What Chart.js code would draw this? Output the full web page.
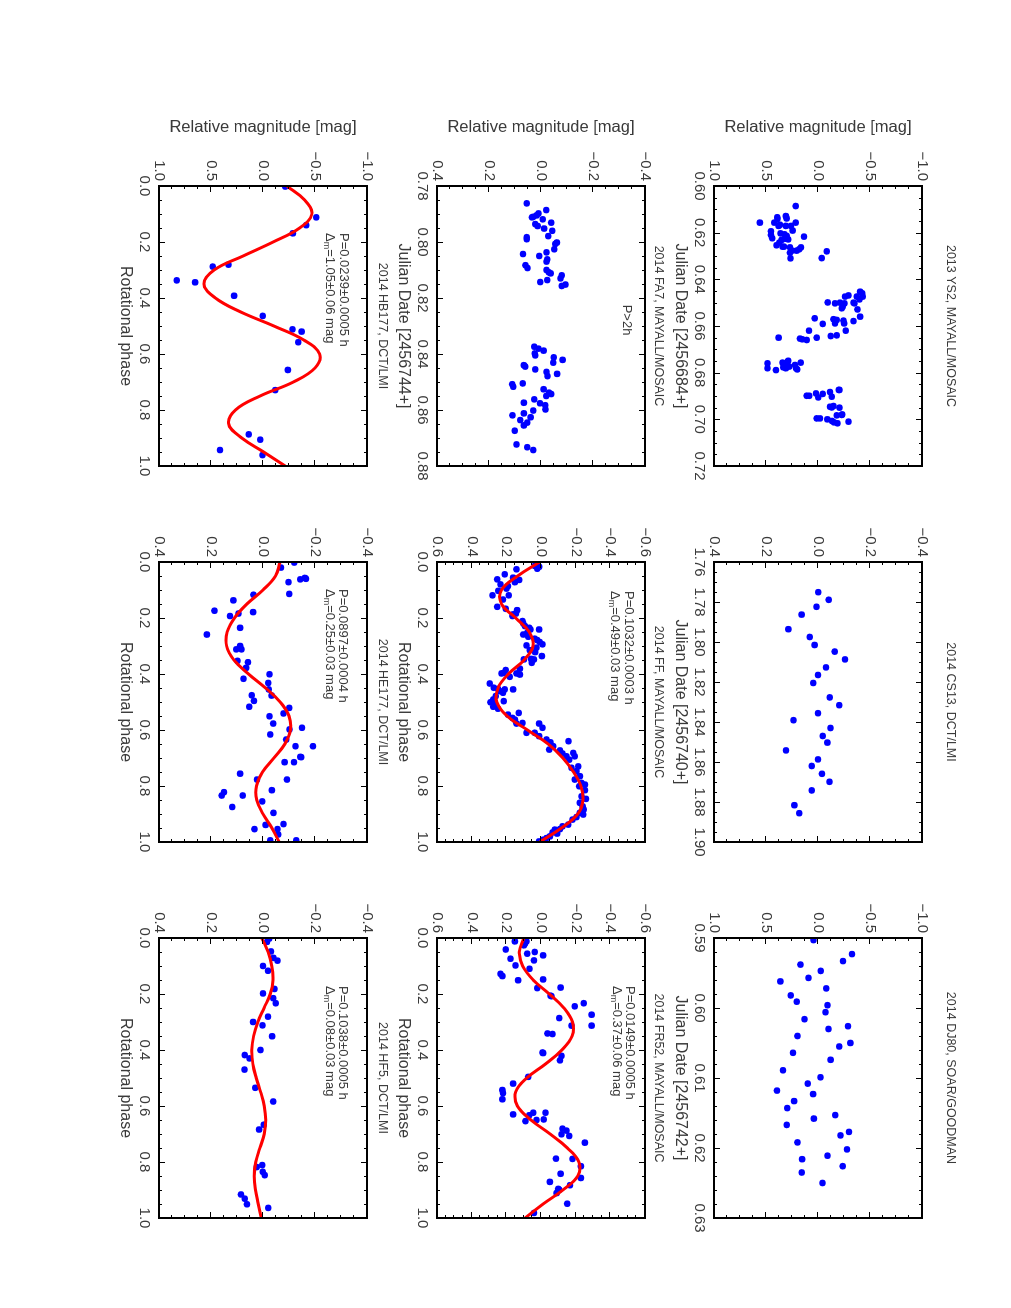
<!DOCTYPE html>
<html>
<head>
<meta charset="utf-8">
<script src="https://cdn.jsdelivr.net/npm/chart.js@4.4.1/dist/chart.umd.min.js"></script>
<style>
  html, body { margin: 0; padding: 0; background: #fff; }
  body { width: 1011px; height: 1308px; overflow: hidden; position: relative; }
  /* the figure is landscape, shown turned a quarter clockwise */
  #page { position: absolute; left: 0; top: 0; width: 1308px; height: 1011px;
          transform-origin: 0 0; transform: translate(1011px, 0) rotate(90deg); }
  #page canvas { position: absolute; }
</style>
</head>
<body>
<div id="page"></div>
<script>
// ---- data ----
const ys2Jd = [0.6086,0.6157,0.6134,0.6141,0.6129,0.6139,0.6157,0.6166,0.6171,0.6171,0.6171,0.6157,0.6191,0.6194,0.6210,0.6203,0.6207,0.6214,0.6217,0.6224,0.6231,0.6226,0.6229,0.6243,0.6254,0.6260,0.6260,0.6263,0.6277,0.6277,0.6263,0.6271,0.6286,0.6310,0.6280,0.6309,
  0.6453,0.6460,0.6474,0.6486,0.6474,0.6469,0.6474,0.6500,0.6517,0.6524,0.6503,0.6500,0.6503,0.6529,0.6499,0.6503,0.6560,0.6579,0.6571,0.6574,0.6577,0.6589,0.6567,0.6591,0.6589,0.6620,0.6620,0.6640,0.6643,0.6650,0.6654,0.6657,0.6660,0.6650,
  0.6760,0.6781,0.6789,0.6767,0.6774,0.6760,0.6753,0.6749,0.6777,0.6781,0.6774,0.6767,0.6781,0.6786,0.6757,0.6757,
  0.6899,0.6899,0.6889,0.6891,0.6906,0.6883,0.6903,0.6874,0.6874,0.6946,0.6949,0.6943,0.6950,0.6981,0.6983,0.6996,0.6996,0.7000,0.7007,0.7013,0.7017,0.7010,0.6979];
const ys2Mag = [0.215,0.559,0.392,0.389,0.309,0.302,0.421,0.367,0.379,0.309,0.260,0.215,0.244,0.453,0.453,0.360,0.322,0.302,0.135,0.441,0.350,0.315,0.286,0.373,0.399,0.341,0.328,0.270,0.251,0.206,0.164,0.180,0.270,0.264,-0.084,-0.035,
  -0.405,-0.424,-0.431,-0.399,-0.373,-0.293,-0.260,-0.212,-0.238,-0.228,-0.254,-0.341,-0.350,-0.379,-0.093,-0.164,-0.405,-0.341,-0.148,-0.180,-0.244,-0.251,0.032,-0.045,-0.164,-0.267,0.087,-0.180,-0.122,0.013,0.174,0.151,0.109,0.379,
  0.486,0.486,0.405,0.328,0.315,0.302,0.293,0.286,0.334,0.309,0.277,0.222,0.212,0.199,0.167,0.341,
  0.109,0.084,0.019,-0.045,-0.003,-0.116,-0.132,-0.206,-0.199,-0.116,-0.132,-0.148,-0.206,-0.228,-0.180,0.013,-0.019,-0.090,-0.135,-0.154,-0.187,-0.293,-0.232];

const cs13Jd = [1.7751,1.7789,1.7824,1.7863,1.7936,1.7975,1.8015,1.8048,1.8087,1.8127,1.8165,1.8205,1.8277,1.8316,1.8356,1.8391,1.8430,1.8470,1.8503,1.8542,1.8587,1.8620,1.8659,1.8699,1.8742,1.8816,1.8856];
const cs13Mag = [-0.001,-0.041,0.006,0.063,0.114,0.032,0.013,-0.064,-0.104,-0.031,0.000,0.018,-0.045,-0.082,0.000,0.094,-0.048,-0.018,-0.036,0.123,0.000,0.024,-0.015,-0.044,0.024,0.091,0.072];

const dj80Jd = [0.5903,0.5923,0.5933,0.5938,0.5947,0.5957,0.5962,0.5972,0.5982,0.5996,0.5991,0.6006,0.6016,0.6026,0.6030,0.6040,0.6050,0.6055,0.6064,0.6074,0.6089,0.6099,0.6108,0.6118,0.6123,0.6133,0.6143,0.6153,0.6158,0.6167,0.6177,0.6182,0.6192,0.6202,0.6211,0.6216,0.6226,0.6235,0.6250];
const dj80Mag = [0.043,-0.327,-0.240,0.169,-0.027,0.092,0.362,-0.079,0.262,-0.092,0.205,-0.072,0.130,-0.288,-0.101,0.198,-0.311,-0.205,0.240,-0.121,0.337,-0.024,0.098,0.395,0.047,0.230,0.295,-0.166,0.040,0.301,-0.298,-0.217,0.198,-0.279,-0.092,0.153,-0.237,0.156,-0.043];

const fa7Jd = [0.7862,0.7886,0.7898,0.7905,0.7910,0.7912,0.7919,0.7931,0.7936,0.7943,0.7952,0.7960,0.7979,0.7983,0.7990,0.8002,0.8007,0.8026,0.8037,0.8043,0.8050,0.8062,0.8070,0.8083,0.8093,0.8100,0.8108,0.8112,0.8119,0.8130,0.8136,0.8143,0.8152,0.8157,
  0.8374,0.8381,0.8388,0.8398,0.8405,0.8412,0.8421,0.8431,0.8440,0.8445,0.8455,0.8464,0.8471,0.8479,0.8508,0.8517,0.8505,0.8526,0.8538,0.8543,0.8550,0.8562,0.8574,0.8576,0.8583,0.8598,0.8602,0.8612,0.8619,0.8636,0.8626,0.8645,0.8655,0.8674,0.8723,0.8733,0.8743];
const fa7Mag = [0.055,-0.020,0.010,0.017,0.030,0.035,-0.007,-0.039,0.022,0.013,-0.012,-0.043,-0.028,0.055,0.055,-0.061,-0.055,-0.051,-0.021,0.069,0.007,-0.024,-0.021,0.060,0.052,-0.021,-0.030,-0.037,-0.080,-0.075,-0.024,0.003,-0.094,-0.080,
  0.026,0.010,-0.010,0.024,0.022,-0.049,-0.083,-0.047,0.066,0.061,0.022,-0.021,-0.062,-0.025,0.111,0.107,0.070,-0.010,-0.031,-0.039,-0.020,0.026,0.066,0.004,-0.016,-0.017,0.030,0.066,0.110,0.080,0.040,0.053,0.066,0.101,0.094,0.053,0.030];

const ffPhase = [0.008,0.014,0.017,0.024,0.026,0.044,0.056,0.064,0.072,0.062,0.080,0.086,0.095,0.103,0.119,0.119,0.134,0.160,0.167,0.172,
  0.187,0.184,0.193,0.211,0.219,0.229,0.235,0.241,0.241,0.253,0.259,0.267,0.274,0.279,0.286,0.294,0.298,0.306,0.315,0.322,
  0.336,0.346,0.348,0.348,0.360,0.381,0.386,0.396,0.398,0.398,0.410,0.402,0.434,0.449,0.453,0.461,0.455,0.455,0.467,0.479,
  0.491,0.501,0.509,0.517,0.524,0.497,0.545,0.557,0.563,0.539,0.575,0.577,0.610,0.610,0.592,0.577,0.622,0.634,0.644,0.658,
  0.670,0.673,0.684,0.640,0.694,0.706,0.682,0.694,0.730,0.735,0.747,0.765,0.777,0.789,0.801,0.795,0.815,0.837,0.846,0.860,
  0.873,0.884,0.896,0.902,0.911,0.920,0.938,0.944,0.954,0.956,0.966,0.970,0.980,0.986,0.992,0.998];
const ffMag = [0.026,0.036,0.011,0.022,0.142,0.209,0.161,0.126,0.151,0.253,0.234,0.190,0.199,0.246,0.280,0.186,0.219,0.253,0.203,0.138,
  0.161,0.145,0.165,0.107,0.103,0.093,0.068,0.061,0.011,0.080,0.103,0.074,0.036,0.022,0.007,-0.009,0.084,0.026,0.065,0.034,
  -0.005,0.057,0.041,0.099,0.053,0.122,0.203,0.215,0.228,0.142,0.180,0.122,0.296,0.273,0.248,0.238,0.209,0.161,0.219,0.261,
  0.276,0.292,0.267,0.276,0.248,0.215,0.190,0.165,0.151,0.128,0.107,0.142,0.036,0.084,-0.009,0.011,0.011,-0.032,-0.055,-0.070,
  -0.047,-0.109,-0.124,-0.159,-0.147,-0.163,-0.186,-0.195,-0.215,-0.176,-0.205,-0.224,-0.195,-0.234,-0.220,-0.253,-0.253,-0.234,-0.259,-0.224,
  -0.240,-0.247,-0.224,-0.244,-0.205,-0.182,-0.157,-0.124,-0.109,-0.080,-0.066,-0.093,-0.051,-0.032,-0.012,0.011];

const fr52Phase = [0.012,0.012,0.020,0.026,0.041,0.050,0.056,0.062,0.074,0.080,0.098,0.110,0.128,0.136,0.151,0.148,0.179,0.177,0.206,0.208,
  0.244,0.233,0.286,0.274,0.313,0.313,0.341,0.343,0.409,0.411,0.421,0.437,0.496,0.520,0.543,0.554,0.576,0.630,0.624,0.624,
  0.633,0.648,0.654,0.650,0.681,0.688,0.707,0.701,0.731,0.788,0.789,0.815,0.842,0.857,0.871,0.883,0.896,0.911,0.899,0.949,0.982];
const fr52Mag = [0.151,0.084,0.092,0.099,0.203,0.036,0.080,-0.012,0.176,0.041,0.147,0.066,0.234,0.223,0.132,-0.012,0.022,-0.113,-0.055,-0.061,
  -0.195,-0.247,-0.105,-0.292,-0.292,-0.176,-0.037,-0.066,-0.009,-0.012,-0.118,-0.109,0.074,0.161,0.223,0.219,0.223,0.161,0.045,-0.026,
  0.068,-0.016,0.090,0.026,-0.124,-0.147,-0.163,-0.118,-0.253,-0.086,-0.182,-0.230,-0.113,-0.230,-0.051,-0.167,-0.099,-0.090,-0.105,-0.151,0.041];

const hb177Phase = [0.002,0.112,0.140,0.169,0.281,0.288,0.337,0.344,0.392,0.464,0.512,0.520,0.558,0.657,0.729,0.887,0.906,0.943,0.961];
const hb177Mag = [-0.213,-0.512,-0.416,-0.287,0.332,0.483,0.830,0.653,0.278,0.002,-0.284,-0.371,-0.339,-0.239,-0.117,0.137,0.027,0.413,0.005];

const he177Phase = [0.002,0.020,0.072,0.062,0.057,0.060,0.114,0.117,0.137,0.179,0.184,0.174,0.193,0.259,0.235,0.312,0.300,0.312,0.353,0.358,
  0.378,0.417,0.401,0.432,0.455,0.477,0.476,0.496,0.517,0.541,0.521,0.551,0.577,0.598,0.592,0.616,0.634,0.658,0.658,0.696,
  0.697,0.715,0.715,0.756,0.777,0.777,0.815,0.822,0.834,0.834,0.855,0.875,0.896,0.939,0.936,0.954,0.954,0.973,0.994,0.994];
const he177Mag = [-0.120,-0.069,-0.098,-0.143,-0.161,-0.165,-0.101,0.037,0.114,0.038,0.094,0.187,0.127,0.216,0.088,0.103,0.088,0.083,0.098,0.058,
  0.065,0.075,-0.025,-0.020,-0.022,-0.033,0.043,0.035,0.053,-0.079,-0.101,-0.025,-0.039,-0.102,-0.150,-0.028,-0.089,-0.192,-0.125,-0.143,
  -0.147,-0.083,-0.119,0.088,0.023,-0.092,-0.034,0.150,0.159,0.078,0.003,0.118,-0.040,-0.010,-0.079,0.033,-0.056,-0.058,-0.028,-0.128];

const hf5Phase = [0.002,0.014,0.048,0.071,0.081,0.100,0.117,0.182,0.198,0.215,0.233,0.281,0.300,0.312,0.351,0.400,0.418,0.430,0.470,0.535,
  0.584,0.667,0.684,0.811,0.818,0.835,0.847,0.916,0.931,0.951,0.964];
const hf5Mag = [-0.024,-0.015,-0.031,-0.040,-0.056,0.000,-0.019,-0.044,0.000,-0.039,-0.049,-0.019,0.038,0.002,-0.035,0.010,0.070,0.052,0.071,0.030,
  -0.039,-0.003,0.015,0.003,0.024,0.001,-0.007,0.085,0.070,0.062,-0.020];

// fitted curves, read at every 0.05 in phase
const fitPhase = [0,0.05,0.1,0.15,0.2,0.25,0.3,0.35,0.4,0.45,0.5,0.55,0.6,0.65,0.7,0.75,0.8,0.85,0.9,0.95,1];
const ffFit = [0.007,0.135,0.228,0.228,0.146,0.068,0.046,0.098,0.188,0.248,0.255,0.196,0.078,-0.041,-0.126,-0.188,-0.230,-0.242,-0.212,-0.118,0.007];
const fr52Fit = [0.099,0.125,0.106,0.045,-0.048,-0.132,-0.182,-0.180,-0.120,-0.026,0.082,0.146,0.136,0.058,-0.053,-0.152,-0.218,-0.212,-0.126,-0.012,0.092];
const hb177Fit = [-0.229,-0.400,-0.470,-0.352,-0.098,0.192,0.470,0.568,0.458,0.214,-0.104,-0.392,-0.545,-0.500,-0.292,0.028,0.265,0.330,0.204,-0.006,-0.213];
const he177Fit = [-0.066,-0.048,0.000,0.062,0.110,0.138,0.140,0.112,0.056,-0.010,-0.066,-0.100,-0.106,-0.084,-0.042,0.002,0.025,0.024,0.000,-0.034,-0.062];
const hf5Fit = [0.005,-0.020,-0.034,-0.038,-0.028,-0.004,0.020,0.036,0.043,0.039,0.026,0.009,-0.005,-0.011,-0.005,0.012,0.028,0.034,0.029,0.018,0.007];

// tick labels
const ys2Ticks = [0.60,0.62,0.64,0.66,0.68,0.70,0.72];
const cs13Ticks = [1.76,1.78,1.80,1.82,1.84,1.86,1.88,1.90];
const dj80Ticks = [0.59,0.60,0.61,0.62,0.63];
const fa7Ticks = [0.78,0.80,0.82,0.84,0.86,0.88];
const phaseTicks = [0.0,0.2,0.4,0.6,0.8,1.0];
const mag10Ticks = [-1.0,-0.5,0.0,0.5,1.0];
const mag04Ticks = [-0.4,-0.2,0.0,0.2,0.4];
const mag06Ticks = [-0.6,-0.4,-0.2,0.0,0.2,0.4,0.6];

// ---- layout of the landscape page ----
const colLeft = [186, 562, 938];
const rowTop = [89, 366, 644];
const BOX_W = 280, BOX_H = 208;
const M = { left: 80, top: 40, right: 22, bottom: 50 };
const TEXT = '#3a3a3a';
const FONT = '"Liberation Sans", Arial, sans-serif';

Chart.defaults.font.family = FONT;
Chart.defaults.color = TEXT;

const panels = [
  { row: 0, col: 0, title: '2013 YS2, MAYALL/MOSAIC', xTitle: 'Julian Date [2456684+]', xs: ys2Jd, ys: ys2Mag, xTicks: ys2Ticks, xDec: 2, xMinor: 4, yTicks: mag10Ticks, yMinor: 4 },
  { row: 0, col: 1, title: '2014 CS13, DCT/LMI', xTitle: 'Julian Date [2456740+]', xs: cs13Jd, ys: cs13Mag, xTicks: cs13Ticks, xDec: 2, xMinor: 4, yTicks: mag04Ticks, yMinor: 4 },
  { row: 0, col: 2, title: '2014 DJ80, SOAR/GOODMAN', xTitle: 'Julian Date [2456742+]', xs: dj80Jd, ys: dj80Mag, xTicks: dj80Ticks, xDec: 2, xMinor: 5, yTicks: mag10Ticks, yMinor: 4 },
  { row: 1, col: 0, title: '2014 FA7, MAYALL/MOSAIC', xTitle: 'Julian Date [2456744+]', xs: fa7Jd, ys: fa7Mag, xTicks: fa7Ticks, xDec: 2, xMinor: 4, yTicks: mag04Ticks, yMinor: 4,
    notes: [{ text: 'P>2h', dx: 134, dy: 18, center: true }] },
  { row: 1, col: 1, title: '2014 FF, MAYALL/MOSAIC', xTitle: 'Rotational phase', xs: ffPhase, ys: ffMag, fit: ffFit, xTicks: phaseTicks, xDec: 1, xMinor: 4, yTicks: mag06Ticks, yMinor: 4,
    notes: [{ text: 'P=0.1032\u00b10.0003 h', dx: 29, dy: 16 }, { delta: '=0.49\u00b10.03 mag', dx: 29, dy: 30 }] },
  { row: 1, col: 2, title: '2014 FR52, MAYALL/MOSAIC', xTitle: 'Rotational phase', xs: fr52Phase, ys: fr52Mag, fit: fr52Fit, xTicks: phaseTicks, xDec: 1, xMinor: 4, yTicks: mag06Ticks, yMinor: 4,
    notes: [{ text: 'P=0.0149\u00b10.0005 h', dx: 48, dy: 15 }, { delta: '=0.37\u00b10.06 mag', dx: 48, dy: 28 }] },
  { row: 2, col: 0, title: '2014 HB177, DCT/LMI', xTitle: 'Rotational phase', xs: hb177Phase, ys: hb177Mag, fit: hb177Fit, xTicks: phaseTicks, xDec: 1, xMinor: 4, yTicks: mag10Ticks, yMinor: 4,
    notes: [{ text: 'P=0.0239\u00b10.0005 h', dx: 47, dy: 23 }, { delta: '=1.05\u00b10.06 mag', dx: 47, dy: 37 }] },
  { row: 2, col: 1, title: '2014 HE177, DCT/LMI', xTitle: 'Rotational phase', xs: he177Phase, ys: he177Mag, fit: he177Fit, xTicks: phaseTicks, xDec: 1, xMinor: 4, yTicks: mag04Ticks, yMinor: 4,
    notes: [{ text: 'P=0.0897\u00b10.0004 h', dx: 27, dy: 24 }, { delta: '=0.25\u00b10.03 mag', dx: 27, dy: 37 }] },
  { row: 2, col: 2, title: '2014 HF5, DCT/LMI', xTitle: 'Rotational phase', xs: hf5Phase, ys: hf5Mag, fit: hf5Fit, xTicks: phaseTicks, xDec: 1, xMinor: 4, yTicks: mag04Ticks, yMinor: 4,
    notes: [{ text: 'P=0.1038\u00b10.0005 h', dx: 48, dy: 24 }, { delta: '=0.08\u00b10.03 mag', dx: 48, dy: 37 }] }
];

const pairs = (xs, ys) => xs.map((x, i) => ({ x: x, y: ys[i] }));
const fmt = (v, dec) => v.toFixed(dec).replace('-', '\u2212');

// box, inward ticks on every side, and the text put inside the plot
const framePlugin = {
  id: 'frame',
  afterDatasetsDraw(chart, args, o) {
    const { ctx, chartArea: a, scales } = chart;
    ctx.save();
    ctx.strokeStyle = '#000';
    ctx.lineWidth = 1;
    ctx.beginPath();
    const xt = o.xTicks, yt = o.yTicks;
    const xStep = (xt[1] - xt[0]) / o.xMinor;
    const nx = Math.round((xt[xt.length - 1] - xt[0]) / xStep);
    for (let i = 0; i <= nx; i++) {
      const px = Math.round(scales.x.getPixelForValue(xt[0] + i * xStep)) + 0.5;
      const len = i % o.xMinor === 0 ? 6 : 3;
      ctx.moveTo(px, a.bottom); ctx.lineTo(px, a.bottom - len);
      ctx.moveTo(px, a.top); ctx.lineTo(px, a.top + len);
    }
    const yStep = (yt[1] - yt[0]) / o.yMinor;
    const ny = Math.round((yt[yt.length - 1] - yt[0]) / yStep);
    for (let i = 0; i <= ny; i++) {
      const py = Math.round(scales.y.getPixelForValue(yt[0] + i * yStep)) + 0.5;
      const len = i % o.yMinor === 0 ? 6 : 3;
      ctx.moveTo(a.left, py); ctx.lineTo(a.left + len, py);
      ctx.moveTo(a.right, py); ctx.lineTo(a.right - len, py);
    }
    ctx.stroke();
    ctx.lineWidth = 2;
    ctx.strokeRect(a.left, a.top, a.width, a.height);

    ctx.fillStyle = TEXT;
    ctx.textBaseline = 'middle';
    (o.notes || []).forEach(n => {
      const x0 = a.left + n.dx, y0 = a.top + n.dy;
      ctx.font = '13px ' + FONT;
      if (n.delta) {
        ctx.textAlign = 'left';
        ctx.fillText('\u0394', x0, y0);
        let w = ctx.measureText('\u0394').width;
        ctx.font = '9px ' + FONT;
        ctx.fillText('m', x0 + w, y0 + 4);
        w += ctx.measureText('m').width;
        ctx.font = '13px ' + FONT;
        ctx.fillText(n.delta, x0 + w, y0);
      } else {
        ctx.textAlign = n.center ? 'center' : 'left';
        ctx.fillText(n.text, x0, y0);
      }
    });
    ctx.restore();
  }
};

const page = document.getElementById('page');

panels.forEach(p => {
  const canvas = document.createElement('canvas');
  canvas.width = BOX_W + M.left + M.right;
  canvas.height = BOX_H + M.top + M.bottom;
  canvas.style.left = (colLeft[p.col] - M.left) + 'px';
  canvas.style.top = (rowTop[p.row] - M.top) + 'px';
  page.appendChild(canvas);

  const datasets = [];
  if (p.fit) {
    datasets.push({ data: pairs(fitPhase, p.fit), showLine: true, pointRadius: 0, borderColor: '#ff0000',
      borderWidth: 3, tension: 0.4, fill: false });
  }
  datasets.push({ data: pairs(p.xs, p.ys), showLine: false, pointRadius: 3.3, pointBackgroundColor: '#0000ff',
    pointBorderColor: '#0000ff', pointBorderWidth: 0 });

  // panel title sits on an empty top axis so it is centred over the box
  const titleTop = p.row === 0 ? 4.5 : (p.row === 1 ? 19.5 : 17.5);

  new Chart(canvas, {
    type: 'scatter',
    data: { datasets: datasets },
    options: {
      responsive: false,
      animation: false,
      events: [],
      layout: { padding: { left: 0, top: 0, right: M.right, bottom: 0 }, autoPadding: false },
      plugins: {
        legend: { display: false },
        tooltip: { enabled: false },
        frame: { xTicks: p.xTicks, yTicks: p.yTicks, xMinor: p.xMinor, yMinor: p.yMinor, notes: p.notes }
      },
      scales: {
        top: {
          type: 'linear', position: 'top', axis: 'x',
          min: p.xTicks[0], max: p.xTicks[p.xTicks.length - 1],
          afterFit: s => { s.height = M.top; },
          grid: { display: false, drawTicks: false },
          border: { display: false },
          ticks: { display: false },
          title: { display: true, text: p.title, color: TEXT, font: { size: 12.5, lineHeight: 1.2 }, padding: { top: titleTop, bottom: 0 } }
        },
        x: {
          type: 'linear', position: 'bottom',
          min: p.xTicks[0], max: p.xTicks[p.xTicks.length - 1],
          afterBuildTicks: s => { s.ticks = p.xTicks.map(v => ({ value: v })); },
          afterFit: s => { s.height = M.bottom; },
          grid: { display: false, drawTicks: false },
          border: { display: false },
          ticks: { padding: 6, autoSkip: false, maxRotation: 0, color: TEXT, font: { size: 15 },
                   callback: v => fmt(v, p.xDec) },
          title: { display: true, text: p.xTitle, color: TEXT, font: { size: 16, lineHeight: 1.2 }, padding: { top: 0, bottom: 7 } }
        },
        y: {
          type: 'linear', position: 'left', reverse: true,
          min: p.yTicks[0], max: p.yTicks[p.yTicks.length - 1],
          afterBuildTicks: s => { s.ticks = p.yTicks.map(v => ({ value: v })); },
          afterFit: s => { s.width = M.left; },
          grid: { display: false, drawTicks: false },
          border: { display: false },
          ticks: { padding: 5, autoSkip: false, color: TEXT, font: { size: 15 },
                   callback: v => fmt(v, 1) },
          title: { display: p.col === 0, text: 'Relative magnitude [mag]', color: TEXT, font: { size: 16.5, lineHeight: 1.2 }, padding: { top: 12, bottom: 0 } }
        }
      }
    },
    plugins: [framePlugin]
  });
});
</script>
</body>
</html>
